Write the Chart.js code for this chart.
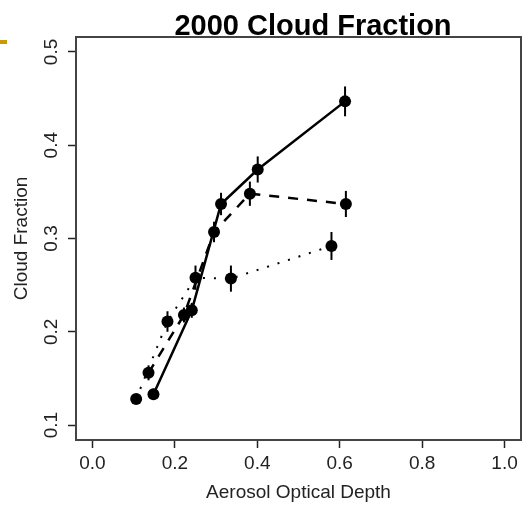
<!DOCTYPE html>
<html>
<head>
<meta charset="utf-8">
<script src="https://cdn.jsdelivr.net/npm/chart.js@4"></script>
<style>
  html, body { margin: 0; padding: 0; background: #fff; }
  #wrap { width: 527px; height: 505px; position: relative; }
</style>
</head>
<body>
<div id="wrap"><canvas id="c" width="527" height="505"></canvas></div>
<script>
// ---- data ----
const titleText = '2000 Cloud Fraction';
const xTitle = 'Aerosol Optical Depth';
const yTitle = 'Cloud Fraction';

const xTickValues = [0.0, 0.2, 0.4, 0.6, 0.8, 1.0];
const xTickLabels = ['0.0', '0.2', '0.4', '0.6', '0.8', '1.0'];
const yTickValues = [0.1, 0.2, 0.3, 0.4, 0.5];
const yTickLabels = ['0.1', '0.2', '0.3', '0.4', '0.5'];

// solid line series
const solidX   = [0.148, 0.241, 0.312, 0.401, 0.613];
const solidY   = [0.133, 0.223, 0.337, 0.374, 0.447];
const solidErr = [0.006, 0.008, 0.012, 0.014, 0.016];
// dashed line series
const dashedX   = [0.136, 0.222, 0.295, 0.382, 0.615];
const dashedY   = [0.156, 0.218, 0.307, 0.348, 0.337];
const dashedErr = [0.008, 0.008, 0.011, 0.013, 0.014];
// dotted line series
const dottedX   = [0.106, 0.182, 0.250, 0.336, 0.580];
const dottedY   = [0.128, 0.211, 0.258, 0.257, 0.292];
const dottedErr = [0.004, 0.011, 0.013, 0.014, 0.015];

// axis ranges (R style 4% extension)
const xMin = -0.04, xMax = 1.04;
const yMin = 0.084, yMax = 0.516;

const FONT = "'Liberation Sans', Arial, Helvetica, sans-serif";

function pts(xs, ys, es) {
  return xs.map((x, i) => ({ x: x, y: ys[i], err: es[i] }));
}

const errorBars = {
  id: 'errorBars',
  afterDatasetsDraw(chart) {
    const ctx = chart.ctx;
    const xs = chart.scales.x, ys = chart.scales.y;
    ctx.save();
    ctx.strokeStyle = '#000';
    ctx.lineWidth = 2;
    chart.data.datasets.forEach(ds => {
      ds.data.forEach(p => {
        const px = xs.getPixelForValue(p.x);
        ctx.beginPath();
        ctx.moveTo(px, ys.getPixelForValue(p.y - p.err));
        ctx.lineTo(px, ys.getPixelForValue(p.y + p.err));
        ctx.stroke();
      });
    });
    ctx.restore();
  }
};

const frame = {
  id: 'frame',
  afterDraw(chart) {
    const ctx = chart.ctx;
    const a = chart.chartArea;
    ctx.save();
    ctx.strokeStyle = '#444';
    ctx.lineWidth = 2;
    ctx.strokeRect(a.left, a.top, a.right - a.left, a.bottom - a.top);
    // title
    ctx.fillStyle = '#000';
    ctx.font = "bold 29px " + FONT;
    ctx.textAlign = 'center';
    ctx.textBaseline = 'alphabetic';
    ctx.fillText(titleText, 313, 35);
    // slide bullet decoration at top-left
    ctx.fillStyle = '#c99a06';
    ctx.fillRect(0, 40, 7, 4);
    ctx.restore();
  }
};

const lineBase = {
  showLine: true,
  fill: false,
  borderColor: '#000',
  borderWidth: 2.5,
  pointRadius: 6,
  pointHoverRadius: 6,
  pointBackgroundColor: '#000',
  pointBorderWidth: 0,
  tension: 0
};

new Chart(document.getElementById('c'), {
  type: 'scatter',
  data: {
    datasets: [
      Object.assign({}, lineBase, { label: 'solid', data: pts(solidX, solidY, solidErr) }),
      Object.assign({}, lineBase, { label: 'dashed', data: pts(dashedX, dashedY, dashedErr), borderDash: [10, 9] }),
      Object.assign({}, lineBase, { label: 'dotted', data: pts(dottedX, dottedY, dottedErr), borderDash: [2, 9], borderWidth: 2 })
    ]
  },
  options: {
    responsive: false,
    animation: false,
    layout: { padding: { top: 37, right: 2, left: 0, bottom: 0 } },
    plugins: {
      legend: { display: false },
      tooltip: { enabled: false },
      title: { display: false }
    },
    scales: {
      x: {
        type: 'linear',
        min: xMin, max: xMax,
        afterFit(s) { s.height = 65; },
        afterBuildTicks(s) { s.ticks = xTickValues.map(v => ({ value: v })); },
        grid: { drawOnChartArea: false, drawTicks: true, tickLength: 8, tickColor: '#222', tickWidth: 1.5 },
        border: { display: true, color: '#444', width: 2 },
        ticks: {
          maxRotation: 0, minRotation: 0, padding: 4, color: '#222',
          font: { family: FONT, size: 19 },
          callback: (v, i) => xTickLabels[i]
        },
        title: { display: true, text: xTitle, color: '#222', font: { family: FONT, size: 19 }, padding: { top: 0, bottom: 1 } }
      },
      y: {
        type: 'linear',
        min: yMin, max: yMax,
        afterFit(s) { s.width = 76; },
        afterBuildTicks(s) { s.ticks = yTickValues.map(v => ({ value: v })); },
        grid: { drawOnChartArea: false, drawTicks: true, tickLength: 8, tickColor: '#222', tickWidth: 1.5 },
        border: { display: true, color: '#444', width: 2 },
        ticks: {
          minRotation: 90, maxRotation: 90, crossAlign: 'center', padding: 3, color: '#222',
          font: { family: FONT, size: 19 },
          callback: (v, i) => yTickLabels[i]
        },
        title: { display: true, text: yTitle, color: '#222', font: { family: FONT, size: 19 }, padding: { top: 10, bottom: 0 } }
      }
    }
  },
  plugins: [errorBars, frame]
});
</script>
</body>
</html>
